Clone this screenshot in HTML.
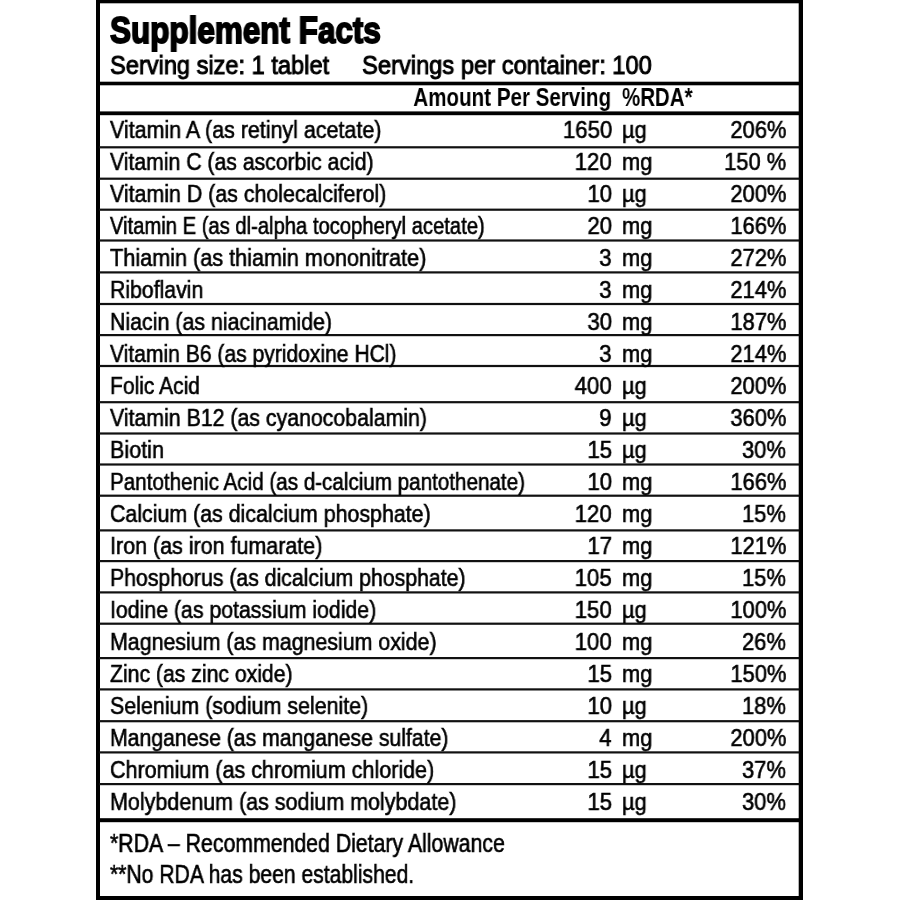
<!DOCTYPE html>
<html lang="en"><head><meta charset="utf-8"><title>Supplement Facts</title>
<style>
html,body{margin:0;padding:0;background:#fff;}
body{width:900px;height:900px;position:relative;overflow:hidden;font-family:"Liberation Sans",Arial,Helvetica,sans-serif;color:#000;}
.lines{position:absolute;left:0;top:0;}
.t{position:absolute;white-space:nowrap;line-height:1;will-change:transform;}
.l{transform-origin:0 100%;}
.r{transform-origin:100% 100%;}
</style></head><body>
<svg class="lines" width="900" height="900" viewBox="0 0 900 900"><rect x="96.00" y="0.00" width="4.00" height="900.00" fill="#000"/><rect x="798.70" y="0.00" width="4.30" height="900.00" fill="#000"/><rect x="96.00" y="0.00" width="707.00" height="3.30" fill="#000"/><rect x="96.00" y="896.00" width="707.00" height="4.00" fill="#000"/><rect x="99.00" y="81.70" width="700.50" height="3.60" fill="#000"/><rect x="99.00" y="111.40" width="700.50" height="3.80" fill="#000"/><rect x="99.00" y="818.20" width="700.50" height="4.00" fill="#000"/><rect x="99.00" y="146.20" width="700.50" height="2.20" fill="#111"/><rect x="99.00" y="177.60" width="700.50" height="2.20" fill="#111"/><rect x="99.00" y="208.60" width="700.50" height="2.20" fill="#111"/><rect x="99.00" y="239.40" width="700.50" height="2.20" fill="#111"/><rect x="99.00" y="271.30" width="700.50" height="2.20" fill="#111"/><rect x="99.00" y="302.90" width="700.50" height="2.20" fill="#111"/><rect x="99.00" y="334.00" width="700.50" height="2.20" fill="#111"/><rect x="99.00" y="364.90" width="700.50" height="2.20" fill="#111"/><rect x="99.00" y="401.10" width="700.50" height="2.20" fill="#111"/><rect x="99.00" y="432.40" width="700.50" height="2.20" fill="#111"/><rect x="99.00" y="463.40" width="700.50" height="2.20" fill="#111"/><rect x="99.00" y="494.60" width="700.50" height="2.20" fill="#111"/><rect x="99.00" y="529.30" width="700.50" height="2.20" fill="#111"/><rect x="99.00" y="560.00" width="700.50" height="2.20" fill="#111"/><rect x="99.00" y="591.30" width="700.50" height="2.20" fill="#111"/><rect x="99.00" y="622.60" width="700.50" height="2.20" fill="#111"/><rect x="99.00" y="657.00" width="700.50" height="2.20" fill="#111"/><rect x="99.00" y="688.30" width="700.50" height="2.20" fill="#111"/><rect x="99.00" y="720.10" width="700.50" height="2.20" fill="#111"/><rect x="99.00" y="751.30" width="700.50" height="2.20" fill="#111"/><rect x="99.00" y="783.00" width="700.50" height="2.20" fill="#111"/></svg>
<div class="t l" style="left:109.7px;top:12.63px;font-size:36.00px;font-weight:700;transform:scaleX(0.8735);-webkit-text-stroke:1.8px #000;">Supplement Facts</div>
<div class="t l" style="left:110px;top:51.97px;font-size:26.50px;font-weight:400;transform:scaleX(0.8906);-webkit-text-stroke:1.0px #000;">Serving size: 1 tablet</div>
<div class="t l" style="left:362.0px;top:51.97px;font-size:26.50px;font-weight:400;transform:scaleX(0.8946);-webkit-text-stroke:1.0px #000;">Servings per container: 100</div>
<div class="t r" style="right:288.5px;top:84.57px;font-size:25.20px;font-weight:700;transform:scaleX(0.8170);">Amount Per Serving</div>
<div class="t l" style="left:622.3px;top:84.57px;font-size:25.20px;font-weight:700;transform:scaleX(0.8130);">%RDA*</div>
<div class="t l" style="left:110px;top:118.05px;font-size:24.40px;font-weight:400;transform:scaleX(0.8794);-webkit-text-stroke:0.6px #000;">Vitamin A (as retinyl acetate)</div>
<div class="t r" style="right:288.0px;top:118.05px;font-size:24.40px;font-weight:400;transform:scaleX(0.9100);-webkit-text-stroke:0.6px #000;">1650</div>
<div class="t l" style="left:622.0px;top:118.05px;font-size:24.40px;font-weight:400;transform:scaleX(0.8970);-webkit-text-stroke:0.6px #000;">µg</div>
<div class="t r" style="right:113.7px;top:118.05px;font-size:24.40px;font-weight:400;transform:scaleX(0.8970);-webkit-text-stroke:0.6px #000;">206%</div>
<div class="t l" style="left:110px;top:150.07px;font-size:24.40px;font-weight:400;transform:scaleX(0.8694);-webkit-text-stroke:0.6px #000;">Vitamin C (as ascorbic acid)</div>
<div class="t r" style="right:288.0px;top:150.07px;font-size:24.40px;font-weight:400;transform:scaleX(0.9100);-webkit-text-stroke:0.6px #000;">120</div>
<div class="t l" style="left:622.0px;top:150.07px;font-size:24.40px;font-weight:400;transform:scaleX(0.8970);-webkit-text-stroke:0.6px #000;">mg</div>
<div class="t r" style="right:113.7px;top:150.07px;font-size:24.40px;font-weight:400;transform:scaleX(0.8970);-webkit-text-stroke:0.6px #000;">150 %</div>
<div class="t l" style="left:110px;top:182.09px;font-size:24.40px;font-weight:400;transform:scaleX(0.8762);-webkit-text-stroke:0.6px #000;">Vitamin D (as cholecalciferol)</div>
<div class="t r" style="right:288.0px;top:182.09px;font-size:24.40px;font-weight:400;transform:scaleX(0.9100);-webkit-text-stroke:0.6px #000;">10</div>
<div class="t l" style="left:622.0px;top:182.09px;font-size:24.40px;font-weight:400;transform:scaleX(0.8970);-webkit-text-stroke:0.6px #000;">µg</div>
<div class="t r" style="right:113.7px;top:182.09px;font-size:24.40px;font-weight:400;transform:scaleX(0.8970);-webkit-text-stroke:0.6px #000;">200%</div>
<div class="t l" style="left:110px;top:214.11px;font-size:24.40px;font-weight:400;transform:scaleX(0.8283);-webkit-text-stroke:0.6px #000;">Vitamin E (as dl-alpha tocopheryl acetate)</div>
<div class="t r" style="right:288.0px;top:214.11px;font-size:24.40px;font-weight:400;transform:scaleX(0.9100);-webkit-text-stroke:0.6px #000;">20</div>
<div class="t l" style="left:622.0px;top:214.11px;font-size:24.40px;font-weight:400;transform:scaleX(0.8970);-webkit-text-stroke:0.6px #000;">mg</div>
<div class="t r" style="right:113.7px;top:214.11px;font-size:24.40px;font-weight:400;transform:scaleX(0.8970);-webkit-text-stroke:0.6px #000;">166%</div>
<div class="t l" style="left:110px;top:246.13px;font-size:24.40px;font-weight:400;transform:scaleX(0.8873);-webkit-text-stroke:0.6px #000;">Thiamin (as thiamin mononitrate)</div>
<div class="t r" style="right:288.0px;top:246.13px;font-size:24.40px;font-weight:400;transform:scaleX(0.9100);-webkit-text-stroke:0.6px #000;">3</div>
<div class="t l" style="left:622.0px;top:246.13px;font-size:24.40px;font-weight:400;transform:scaleX(0.8970);-webkit-text-stroke:0.6px #000;">mg</div>
<div class="t r" style="right:113.7px;top:246.13px;font-size:24.40px;font-weight:400;transform:scaleX(0.8970);-webkit-text-stroke:0.6px #000;">272%</div>
<div class="t l" style="left:110px;top:278.15px;font-size:24.40px;font-weight:400;transform:scaleX(0.8713);-webkit-text-stroke:0.6px #000;">Riboflavin</div>
<div class="t r" style="right:288.0px;top:278.15px;font-size:24.40px;font-weight:400;transform:scaleX(0.9100);-webkit-text-stroke:0.6px #000;">3</div>
<div class="t l" style="left:622.0px;top:278.15px;font-size:24.40px;font-weight:400;transform:scaleX(0.8970);-webkit-text-stroke:0.6px #000;">mg</div>
<div class="t r" style="right:113.7px;top:278.15px;font-size:24.40px;font-weight:400;transform:scaleX(0.8970);-webkit-text-stroke:0.6px #000;">214%</div>
<div class="t l" style="left:110px;top:310.17px;font-size:24.40px;font-weight:400;transform:scaleX(0.8760);-webkit-text-stroke:0.6px #000;">Niacin (as niacinamide)</div>
<div class="t r" style="right:288.0px;top:310.17px;font-size:24.40px;font-weight:400;transform:scaleX(0.9100);-webkit-text-stroke:0.6px #000;">30</div>
<div class="t l" style="left:622.0px;top:310.17px;font-size:24.40px;font-weight:400;transform:scaleX(0.8970);-webkit-text-stroke:0.6px #000;">mg</div>
<div class="t r" style="right:113.7px;top:310.17px;font-size:24.40px;font-weight:400;transform:scaleX(0.8970);-webkit-text-stroke:0.6px #000;">187%</div>
<div class="t l" style="left:110px;top:342.19px;font-size:24.40px;font-weight:400;transform:scaleX(0.8639);-webkit-text-stroke:0.6px #000;">Vitamin B6 (as pyridoxine HCl)</div>
<div class="t r" style="right:288.0px;top:342.19px;font-size:24.40px;font-weight:400;transform:scaleX(0.9100);-webkit-text-stroke:0.6px #000;">3</div>
<div class="t l" style="left:622.0px;top:342.19px;font-size:24.40px;font-weight:400;transform:scaleX(0.8970);-webkit-text-stroke:0.6px #000;">mg</div>
<div class="t r" style="right:113.7px;top:342.19px;font-size:24.40px;font-weight:400;transform:scaleX(0.8970);-webkit-text-stroke:0.6px #000;">214%</div>
<div class="t l" style="left:110px;top:374.21px;font-size:24.40px;font-weight:400;transform:scaleX(0.8615);-webkit-text-stroke:0.6px #000;">Folic Acid</div>
<div class="t r" style="right:288.0px;top:374.21px;font-size:24.40px;font-weight:400;transform:scaleX(0.9100);-webkit-text-stroke:0.6px #000;">400</div>
<div class="t l" style="left:622.0px;top:374.21px;font-size:24.40px;font-weight:400;transform:scaleX(0.8970);-webkit-text-stroke:0.6px #000;">µg</div>
<div class="t r" style="right:113.7px;top:374.21px;font-size:24.40px;font-weight:400;transform:scaleX(0.8970);-webkit-text-stroke:0.6px #000;">200%</div>
<div class="t l" style="left:110px;top:406.23px;font-size:24.40px;font-weight:400;transform:scaleX(0.8733);-webkit-text-stroke:0.6px #000;">Vitamin B12 (as cyanocobalamin)</div>
<div class="t r" style="right:288.0px;top:406.23px;font-size:24.40px;font-weight:400;transform:scaleX(0.9100);-webkit-text-stroke:0.6px #000;">9</div>
<div class="t l" style="left:622.0px;top:406.23px;font-size:24.40px;font-weight:400;transform:scaleX(0.8970);-webkit-text-stroke:0.6px #000;">µg</div>
<div class="t r" style="right:113.7px;top:406.23px;font-size:24.40px;font-weight:400;transform:scaleX(0.8970);-webkit-text-stroke:0.6px #000;">360%</div>
<div class="t l" style="left:110px;top:438.25px;font-size:24.40px;font-weight:400;transform:scaleX(0.8848);-webkit-text-stroke:0.6px #000;">Biotin</div>
<div class="t r" style="right:288.0px;top:438.25px;font-size:24.40px;font-weight:400;transform:scaleX(0.9100);-webkit-text-stroke:0.6px #000;">15</div>
<div class="t l" style="left:622.0px;top:438.25px;font-size:24.40px;font-weight:400;transform:scaleX(0.8970);-webkit-text-stroke:0.6px #000;">µg</div>
<div class="t r" style="right:113.7px;top:438.25px;font-size:24.40px;font-weight:400;transform:scaleX(0.8970);-webkit-text-stroke:0.6px #000;">30%</div>
<div class="t l" style="left:110px;top:470.27px;font-size:24.40px;font-weight:400;transform:scaleX(0.8454);-webkit-text-stroke:0.6px #000;">Pantothenic Acid (as d-calcium pantothenate)</div>
<div class="t r" style="right:288.0px;top:470.27px;font-size:24.40px;font-weight:400;transform:scaleX(0.9100);-webkit-text-stroke:0.6px #000;">10</div>
<div class="t l" style="left:622.0px;top:470.27px;font-size:24.40px;font-weight:400;transform:scaleX(0.8970);-webkit-text-stroke:0.6px #000;">mg</div>
<div class="t r" style="right:113.7px;top:470.27px;font-size:24.40px;font-weight:400;transform:scaleX(0.8970);-webkit-text-stroke:0.6px #000;">166%</div>
<div class="t l" style="left:110px;top:502.29px;font-size:24.40px;font-weight:400;transform:scaleX(0.8760);-webkit-text-stroke:0.6px #000;">Calcium (as dicalcium phosphate)</div>
<div class="t r" style="right:288.0px;top:502.29px;font-size:24.40px;font-weight:400;transform:scaleX(0.9100);-webkit-text-stroke:0.6px #000;">120</div>
<div class="t l" style="left:622.0px;top:502.29px;font-size:24.40px;font-weight:400;transform:scaleX(0.8970);-webkit-text-stroke:0.6px #000;">mg</div>
<div class="t r" style="right:113.7px;top:502.29px;font-size:24.40px;font-weight:400;transform:scaleX(0.8970);-webkit-text-stroke:0.6px #000;">15%</div>
<div class="t l" style="left:110px;top:534.31px;font-size:24.40px;font-weight:400;transform:scaleX(0.8802);-webkit-text-stroke:0.6px #000;">Iron (as iron fumarate)</div>
<div class="t r" style="right:288.0px;top:534.31px;font-size:24.40px;font-weight:400;transform:scaleX(0.9100);-webkit-text-stroke:0.6px #000;">17</div>
<div class="t l" style="left:622.0px;top:534.31px;font-size:24.40px;font-weight:400;transform:scaleX(0.8970);-webkit-text-stroke:0.6px #000;">mg</div>
<div class="t r" style="right:113.7px;top:534.31px;font-size:24.40px;font-weight:400;transform:scaleX(0.8970);-webkit-text-stroke:0.6px #000;">121%</div>
<div class="t l" style="left:110px;top:566.33px;font-size:24.40px;font-weight:400;transform:scaleX(0.8711);-webkit-text-stroke:0.6px #000;">Phosphorus (as dicalcium phosphate)</div>
<div class="t r" style="right:288.0px;top:566.33px;font-size:24.40px;font-weight:400;transform:scaleX(0.9100);-webkit-text-stroke:0.6px #000;">105</div>
<div class="t l" style="left:622.0px;top:566.33px;font-size:24.40px;font-weight:400;transform:scaleX(0.8970);-webkit-text-stroke:0.6px #000;">mg</div>
<div class="t r" style="right:113.7px;top:566.33px;font-size:24.40px;font-weight:400;transform:scaleX(0.8970);-webkit-text-stroke:0.6px #000;">15%</div>
<div class="t l" style="left:110px;top:598.35px;font-size:24.40px;font-weight:400;transform:scaleX(0.8727);-webkit-text-stroke:0.6px #000;">Iodine (as potassium iodide)</div>
<div class="t r" style="right:288.0px;top:598.35px;font-size:24.40px;font-weight:400;transform:scaleX(0.9100);-webkit-text-stroke:0.6px #000;">150</div>
<div class="t l" style="left:622.0px;top:598.35px;font-size:24.40px;font-weight:400;transform:scaleX(0.8970);-webkit-text-stroke:0.6px #000;">µg</div>
<div class="t r" style="right:113.7px;top:598.35px;font-size:24.40px;font-weight:400;transform:scaleX(0.8970);-webkit-text-stroke:0.6px #000;">100%</div>
<div class="t l" style="left:110px;top:630.37px;font-size:24.40px;font-weight:400;transform:scaleX(0.8760);-webkit-text-stroke:0.6px #000;">Magnesium (as magnesium oxide)</div>
<div class="t r" style="right:288.0px;top:630.37px;font-size:24.40px;font-weight:400;transform:scaleX(0.9100);-webkit-text-stroke:0.6px #000;">100</div>
<div class="t l" style="left:622.0px;top:630.37px;font-size:24.40px;font-weight:400;transform:scaleX(0.8970);-webkit-text-stroke:0.6px #000;">mg</div>
<div class="t r" style="right:113.7px;top:630.37px;font-size:24.40px;font-weight:400;transform:scaleX(0.8970);-webkit-text-stroke:0.6px #000;">26%</div>
<div class="t l" style="left:110px;top:662.39px;font-size:24.40px;font-weight:400;transform:scaleX(0.8688);-webkit-text-stroke:0.6px #000;">Zinc (as zinc oxide)</div>
<div class="t r" style="right:288.0px;top:662.39px;font-size:24.40px;font-weight:400;transform:scaleX(0.9100);-webkit-text-stroke:0.6px #000;">15</div>
<div class="t l" style="left:622.0px;top:662.39px;font-size:24.40px;font-weight:400;transform:scaleX(0.8970);-webkit-text-stroke:0.6px #000;">mg</div>
<div class="t r" style="right:113.7px;top:662.39px;font-size:24.40px;font-weight:400;transform:scaleX(0.8970);-webkit-text-stroke:0.6px #000;">150%</div>
<div class="t l" style="left:110px;top:694.41px;font-size:24.40px;font-weight:400;transform:scaleX(0.8778);-webkit-text-stroke:0.6px #000;">Selenium (sodium selenite)</div>
<div class="t r" style="right:288.0px;top:694.41px;font-size:24.40px;font-weight:400;transform:scaleX(0.9100);-webkit-text-stroke:0.6px #000;">10</div>
<div class="t l" style="left:622.0px;top:694.41px;font-size:24.40px;font-weight:400;transform:scaleX(0.8970);-webkit-text-stroke:0.6px #000;">µg</div>
<div class="t r" style="right:113.7px;top:694.41px;font-size:24.40px;font-weight:400;transform:scaleX(0.8970);-webkit-text-stroke:0.6px #000;">18%</div>
<div class="t l" style="left:110px;top:726.43px;font-size:24.40px;font-weight:400;transform:scaleX(0.8696);-webkit-text-stroke:0.6px #000;">Manganese (as manganese sulfate)</div>
<div class="t r" style="right:288.0px;top:726.43px;font-size:24.40px;font-weight:400;transform:scaleX(0.9100);-webkit-text-stroke:0.6px #000;">4</div>
<div class="t l" style="left:622.0px;top:726.43px;font-size:24.40px;font-weight:400;transform:scaleX(0.8970);-webkit-text-stroke:0.6px #000;">mg</div>
<div class="t r" style="right:113.7px;top:726.43px;font-size:24.40px;font-weight:400;transform:scaleX(0.8970);-webkit-text-stroke:0.6px #000;">200%</div>
<div class="t l" style="left:110px;top:758.45px;font-size:24.40px;font-weight:400;transform:scaleX(0.8828);-webkit-text-stroke:0.6px #000;">Chromium (as chromium chloride)</div>
<div class="t r" style="right:288.0px;top:758.45px;font-size:24.40px;font-weight:400;transform:scaleX(0.9100);-webkit-text-stroke:0.6px #000;">15</div>
<div class="t l" style="left:622.0px;top:758.45px;font-size:24.40px;font-weight:400;transform:scaleX(0.8970);-webkit-text-stroke:0.6px #000;">µg</div>
<div class="t r" style="right:113.7px;top:758.45px;font-size:24.40px;font-weight:400;transform:scaleX(0.8970);-webkit-text-stroke:0.6px #000;">37%</div>
<div class="t l" style="left:110px;top:790.47px;font-size:24.40px;font-weight:400;transform:scaleX(0.8812);-webkit-text-stroke:0.6px #000;">Molybdenum (as sodium molybdate)</div>
<div class="t r" style="right:288.0px;top:790.47px;font-size:24.40px;font-weight:400;transform:scaleX(0.9100);-webkit-text-stroke:0.6px #000;">15</div>
<div class="t l" style="left:622.0px;top:790.47px;font-size:24.40px;font-weight:400;transform:scaleX(0.8970);-webkit-text-stroke:0.6px #000;">µg</div>
<div class="t r" style="right:113.7px;top:790.47px;font-size:24.40px;font-weight:400;transform:scaleX(0.8970);-webkit-text-stroke:0.6px #000;">30%</div>
<div class="t l" style="left:110px;top:830.72px;font-size:25.38px;font-weight:400;transform:scaleX(0.8381);-webkit-text-stroke:0.6px #000;">*RDA &ndash; Recommended Dietary Allowance</div>
<div class="t l" style="left:110px;top:862.32px;font-size:25.38px;font-weight:400;transform:scaleX(0.8326);-webkit-text-stroke:0.6px #000;">**No RDA has been established.</div>
</body></html>
